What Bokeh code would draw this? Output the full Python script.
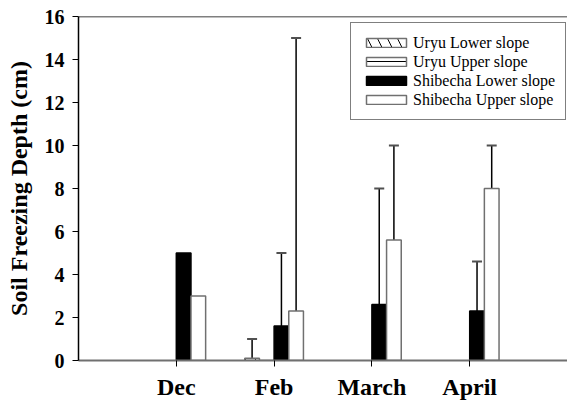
import math
from bokeh.plotting import figure
from bokeh.models import (ColumnDataSource, Range1d, FixedTicker, Whisker, TeeHead,
                          Span, Legend, LegendItem)
from bokeh.embed import file_html
from bokeh.resources import INLINE

# ---- data ----
months = ["Dec", "Feb", "March", "April"]
month_pos = [1, 2, 3, 4]
uryu_lower = [math.nan, 0.1, math.nan, math.nan]
uryu_lower_err = [math.nan, 0.9, math.nan, math.nan]
uryu_upper = [math.nan, 0.0, math.nan, math.nan]
uryu_upper_err = [math.nan, math.nan, math.nan, math.nan]
shib_lower = [5.0, 1.6, 2.6, 2.3]
shib_lower_err = [math.nan, 3.4, 5.4, 2.3]
shib_upper = [3.0, 2.3, 5.6, 8.0]
shib_upper_err = [math.nan, 12.7, 4.4, 2.0]
y_ticks = [0, 2, 4, 6, 8, 10, 12, 14, 16]

FONT = "Liberation Serif"
BW = 0.15

p = figure(width=567, height=406, output_backend="svg", toolbar_location=None,
           x_range=Range1d(0, 5), y_range=Range1d(0, 16),
           min_border_left=78, min_border_right=0, min_border_top=16, min_border_bottom=46)
p.outline_line_color = None
p.grid.visible = False
p.background_fill_color = "white"
p.border_fill_color = "white"

series = [
    ("Uryu Lower slope", uryu_lower, uryu_lower_err, -0.225,
     dict(fill_color="white", line_color="#707070", hatch_pattern="left_diagonal_line",
          hatch_color="black", hatch_scale=20, hatch_weight=1)),
    ("Uryu Upper slope", uryu_upper, uryu_upper_err, -0.075,
     dict(fill_color="white", line_color="#707070", hatch_pattern="horizontal_line",
          hatch_color="black", hatch_scale=9, hatch_weight=1)),
    ("Shibecha Lower slope", shib_lower, shib_lower_err, 0.075,
     dict(fill_color="black", line_color="black")),
    ("Shibecha Upper slope", shib_upper, shib_upper_err, 0.225,
     dict(fill_color="white", line_color="#707070")),
]

items = []
for name, vals, errs, off, style in series:
    xs, tops, ups = [], [], []
    for m, v, e in zip(month_pos, vals, errs):
        if not math.isnan(v):
            xs.append(m + off)
            tops.append(v)
            ups.append(v + e if not math.isnan(e) else math.nan)
    src = ColumnDataSource(dict(x=xs, top=tops))
    r = p.vbar(x="x", top="top", bottom=0, width=BW, source=src, line_width=1.5, **style)
    items.append(LegendItem(label=name, renderers=[r]))
    ex = [x for x, u in zip(xs, ups) if not math.isnan(u)]
    eb = [t for t, u in zip(tops, ups) if not math.isnan(u)]
    eu = [u for u in ups if not math.isnan(u)]
    if ex:
        esrc = ColumnDataSource(dict(x=ex, base=eb, upper=eu))
        w = Whisker(source=esrc, base="x", lower="base", upper="upper", dimension="height",
                    line_color="black", line_width=1.5, lower_head=None,
                    upper_head=TeeHead(size=10, line_color="#505050", line_width=2))
        p.add_layout(w)

# top frame line
p.add_layout(Span(location=16, dimension="width", line_color="black", line_width=1.5))

# axes
p.xaxis.ticker = FixedTicker(ticks=month_pos)
p.xaxis.major_label_overrides = {m: lab for m, lab in zip(month_pos, months)}
p.xaxis.minor_tick_line_color = None
p.xaxis.major_tick_out = 6
p.xaxis.major_tick_in = 0
p.xaxis.axis_line_color = "#707070"
p.xaxis.axis_line_width = 2
p.xaxis.major_tick_line_color = "black"
p.xaxis.major_label_text_font = FONT
p.xaxis.major_label_text_font_style = "bold"
p.xaxis.major_label_text_font_size = "24px"
p.xaxis.major_label_text_color = "black"
p.xaxis.major_label_standoff = 7

p.yaxis.ticker = FixedTicker(ticks=y_ticks)
p.yaxis.minor_tick_line_color = None
p.yaxis.major_tick_out = 6
p.yaxis.major_tick_in = 0
p.yaxis.axis_line_color = "black"
p.yaxis.axis_line_width = 1.5
p.yaxis.major_tick_line_color = "black"
p.yaxis.major_label_text_font = FONT
p.yaxis.major_label_text_font_style = "bold"
p.yaxis.major_label_text_font_size = "20px"
p.yaxis.major_label_text_color = "black"
p.yaxis.major_label_standoff = 8
p.yaxis.axis_label = "Soil Freezing Depth (cm)"
p.yaxis.axis_label_text_font = FONT
p.yaxis.axis_label_text_font_style = "bold"
p.yaxis.axis_label_text_font_size = "24px"
p.yaxis.axis_label_text_color = "black"
p.yaxis.axis_label_standoff = 10

legend = Legend(items=items, location=(272, 240), margin=0, padding=10, spacing=0,
                glyph_width=50, glyph_height=11, label_height=19, label_width=141,
                label_standoff=2,
                label_text_font=FONT, label_text_font_size="16px", label_text_color="black",
                border_line_color="black", border_line_width=1,
                background_fill_color="white", background_fill_alpha=1)
p.add_layout(legend)

open("out.html", "w").write(file_html(p, INLINE))
